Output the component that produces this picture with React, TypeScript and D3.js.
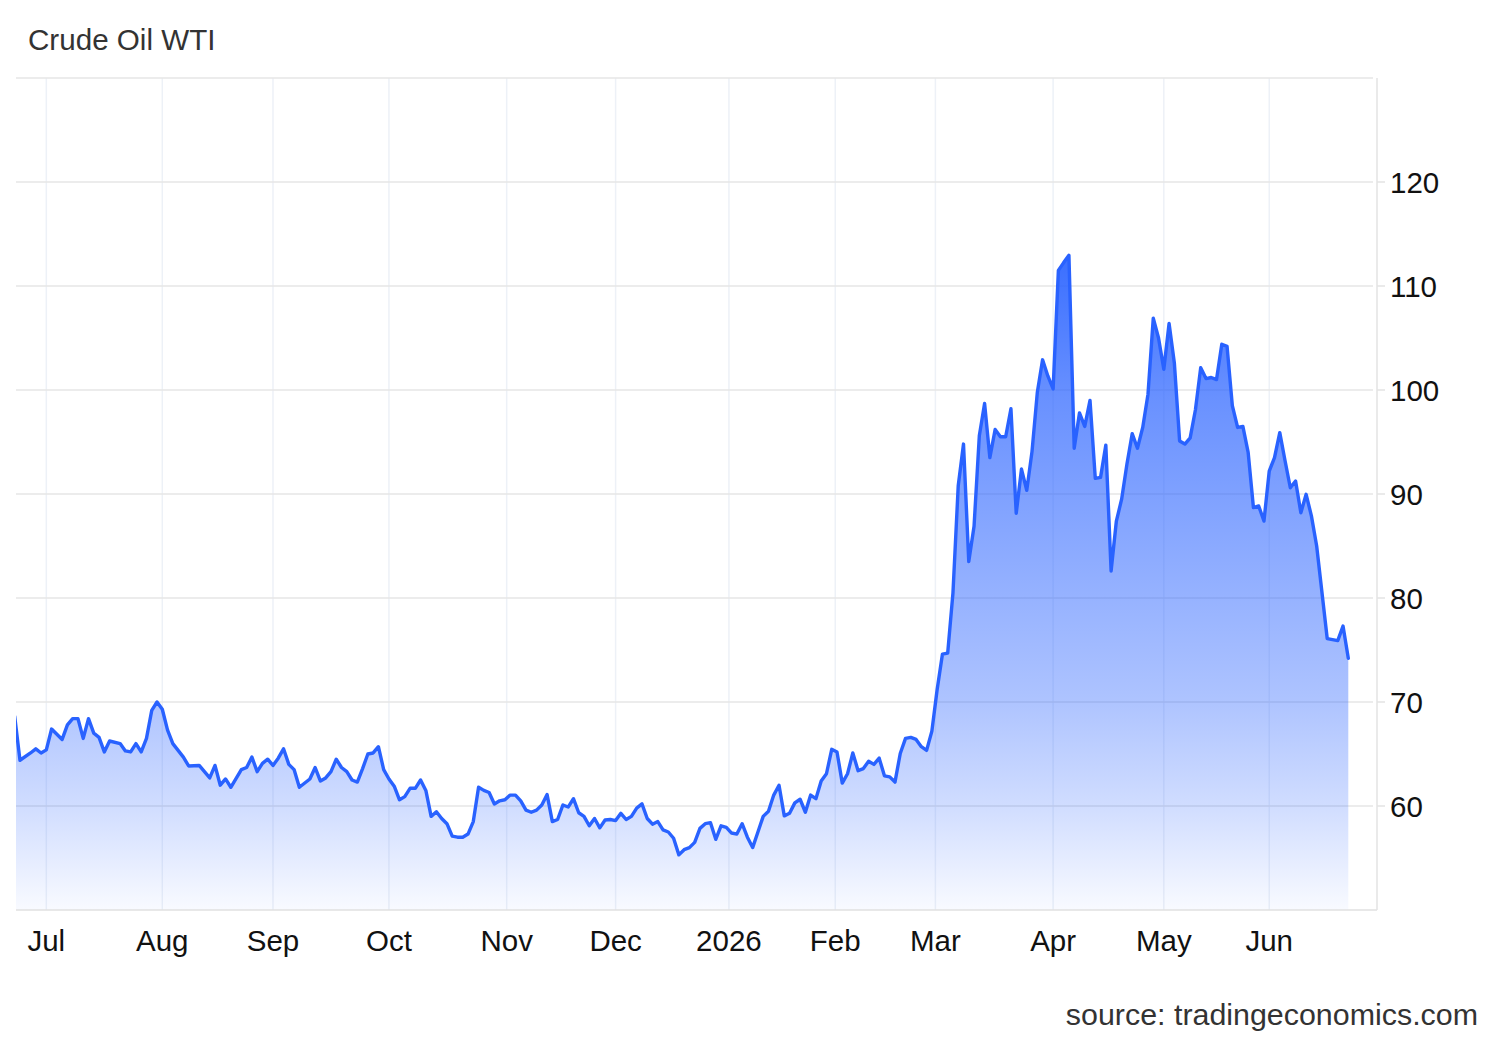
import React from "react";
import * as d3 from "d3";

const TITLE = "Crude Oil WTI";
const SOURCE = "source: tradingeconomics.com";
const FIRST_DAY = "2025-06-23";
const LAST_DAY = "2026-06-22";
const CLOSED_DAYS = ["2025-07-04", "2025-12-25", "2026-01-01", "2026-01-19", "2026-02-16", "2026-04-03", "2026-05-25"];
const MONTH_STARTS = ["2025-07-01", "2025-08-01", "2025-09-01", "2025-10-01", "2025-11-01", "2025-12-01", "2026-01-01", "2026-02-01", "2026-03-01", "2026-04-01", "2026-05-01", "2026-06-01"];
const Y_DOMAIN = [50, 130];
const Y_LABELS = [60, 70, 80, 90, 100, 110, 120];

const PRICES: [string, number][] = [
  ["2025-06-23", 68.6], ["2025-06-24", 64.4], ["2025-06-26", 65.1], ["2025-06-27", 65.5], ["2025-06-30", 65.1],
  ["2025-07-01", 65.4], ["2025-07-02", 67.4], ["2025-07-07", 66.4], ["2025-07-08", 67.8], ["2025-07-09", 68.4],
  ["2025-07-10", 68.4], ["2025-07-11", 66.5], ["2025-07-14", 68.4], ["2025-07-15", 67.0], ["2025-07-16", 66.6],
  ["2025-07-17", 65.2], ["2025-07-18", 66.25], ["2025-07-22", 66.0], ["2025-07-23", 65.3], ["2025-07-24", 65.2],
  ["2025-07-25", 66.0], ["2025-07-28", 65.2], ["2025-07-29", 66.5], ["2025-07-30", 69.2], ["2025-07-31", 70.0],
  ["2025-08-01", 69.3], ["2025-08-04", 67.3], ["2025-08-05", 66.0], ["2025-08-07", 64.7], ["2025-08-08", 63.85],
  ["2025-08-12", 63.9], ["2025-08-13", 63.3], ["2025-08-14", 62.7], ["2025-08-15", 63.9], ["2025-08-18", 62.0],
  ["2025-08-19", 62.6], ["2025-08-20", 61.8], ["2025-08-22", 63.5], ["2025-08-25", 63.7], ["2025-08-26", 64.7],
  ["2025-08-27", 63.3], ["2025-08-28", 64.1], ["2025-08-29", 64.5], ["2025-09-01", 63.9], ["2025-09-02", 64.6],
  ["2025-09-03", 65.5], ["2025-09-04", 64.0], ["2025-09-05", 63.5], ["2025-09-08", 61.8], ["2025-09-10", 62.6],
  ["2025-09-11", 63.7], ["2025-09-12", 62.4], ["2025-09-15", 62.7], ["2025-09-16", 63.3], ["2025-09-17", 64.5],
  ["2025-09-18", 63.7], ["2025-09-19", 63.3], ["2025-09-22", 62.5], ["2025-09-23", 62.3], ["2025-09-24", 63.6],
  ["2025-09-25", 65.0], ["2025-09-26", 65.1], ["2025-09-29", 65.7], ["2025-09-30", 63.5], ["2025-10-01", 62.6],
  ["2025-10-02", 61.9], ["2025-10-03", 60.6], ["2025-10-06", 60.9], ["2025-10-07", 61.7], ["2025-10-08", 61.7],
  ["2025-10-09", 62.5], ["2025-10-10", 61.5], ["2025-10-13", 59.0], ["2025-10-14", 59.45], ["2025-10-15", 58.8],
  ["2025-10-16", 58.3], ["2025-10-17", 57.1], ["2025-10-20", 57.0], ["2025-10-21", 57.0], ["2025-10-22", 57.3],
  ["2025-10-23", 58.5], ["2025-10-24", 61.8], ["2025-10-27", 61.5], ["2025-10-28", 61.3], ["2025-10-29", 60.2],
  ["2025-10-30", 60.5], ["2025-10-31", 60.6], ["2025-11-03", 61.05], ["2025-11-04", 61.05], ["2025-11-05", 60.5],
  ["2025-11-06", 59.6], ["2025-11-07", 59.4], ["2025-11-10", 59.6], ["2025-11-11", 60.1], ["2025-11-12", 61.1],
  ["2025-11-13", 58.5], ["2025-11-14", 58.7], ["2025-11-17", 60.1], ["2025-11-18", 59.9], ["2025-11-19", 60.7],
  ["2025-11-20", 59.35], ["2025-11-21", 59.0], ["2025-11-24", 58.1], ["2025-11-25", 58.8], ["2025-11-26", 57.9],
  ["2025-11-27", 58.65], ["2025-11-28", 58.7], ["2025-12-01", 58.6], ["2025-12-02", 59.3], ["2025-12-03", 58.7],
  ["2025-12-04", 59.0], ["2025-12-05", 59.8], ["2025-12-08", 60.2], ["2025-12-09", 58.8], ["2025-12-10", 58.25],
  ["2025-12-11", 58.5], ["2025-12-12", 57.7], ["2025-12-15", 57.5], ["2025-12-16", 56.9], ["2025-12-17", 55.3],
  ["2025-12-18", 55.8], ["2025-12-19", 56.0], ["2025-12-22", 56.5], ["2025-12-23", 57.85], ["2025-12-24", 58.3],
  ["2025-12-26", 58.4], ["2025-12-29", 56.8], ["2025-12-30", 58.1], ["2025-12-31", 57.95], ["2026-01-02", 57.4],
  ["2026-01-05", 57.3], ["2026-01-06", 58.3], ["2026-01-07", 57.0], ["2026-01-08", 56.0], ["2026-01-09", 57.5],
  ["2026-01-12", 59.0], ["2026-01-13", 59.5], ["2026-01-14", 61.05], ["2026-01-15", 62.0], ["2026-01-16", 59.05],
  ["2026-01-20", 59.3], ["2026-01-21", 60.3], ["2026-01-22", 60.65], ["2026-01-23", 59.4], ["2026-01-26", 61.05],
  ["2026-01-27", 60.7], ["2026-01-28", 62.4], ["2026-01-29", 63.1], ["2026-01-30", 65.45], ["2026-02-02", 65.2],
  ["2026-02-03", 62.2], ["2026-02-04", 63.1], ["2026-02-05", 65.1], ["2026-02-06", 63.4], ["2026-02-09", 63.6],
  ["2026-02-10", 64.3], ["2026-02-11", 64.0], ["2026-02-12", 64.6], ["2026-02-13", 62.9], ["2026-02-17", 62.8],
  ["2026-02-18", 62.3], ["2026-02-19", 65.05], ["2026-02-20", 66.5], ["2026-02-23", 66.6], ["2026-02-24", 66.4],
  ["2026-02-25", 65.7], ["2026-02-26", 65.35], ["2026-02-27", 67.2], ["2026-03-02", 71.2], ["2026-03-03", 74.6],
  ["2026-03-04", 74.7], ["2026-03-05", 80.5], ["2026-03-06", 90.8], ["2026-03-09", 94.8], ["2026-03-10", 83.5],
  ["2026-03-11", 86.9], ["2026-03-12", 95.6], ["2026-03-13", 98.7], ["2026-03-16", 93.5], ["2026-03-17", 96.2],
  ["2026-03-18", 95.5], ["2026-03-19", 95.5], ["2026-03-20", 98.2], ["2026-03-23", 88.15], ["2026-03-24", 92.4],
  ["2026-03-25", 90.35], ["2026-03-26", 94.1], ["2026-03-27", 99.75], ["2026-03-30", 102.9], ["2026-03-31", 101.35],
  ["2026-04-01", 100.1], ["2026-04-02", 111.5], ["2026-04-06", 112.25], ["2026-04-07", 112.95], ["2026-04-08", 94.4],
  ["2026-04-09", 97.8], ["2026-04-10", 96.5], ["2026-04-13", 99.0], ["2026-04-14", 91.5], ["2026-04-15", 91.6],
  ["2026-04-16", 94.7], ["2026-04-17", 82.6], ["2026-04-20", 87.4], ["2026-04-21", 89.5], ["2026-04-22", 92.85],
  ["2026-04-23", 95.8], ["2026-04-24", 94.4], ["2026-04-27", 96.4], ["2026-04-28", 99.6], ["2026-04-29", 106.9],
  ["2026-04-30", 105.0], ["2026-05-01", 102.0], ["2026-05-04", 106.4], ["2026-05-05", 102.6], ["2026-05-06", 95.1],
  ["2026-05-07", 94.8], ["2026-05-08", 95.4], ["2026-05-11", 98.1], ["2026-05-12", 102.15], ["2026-05-13", 101.1],
  ["2026-05-14", 101.2], ["2026-05-15", 101.0], ["2026-05-18", 104.4], ["2026-05-19", 104.2], ["2026-05-20", 98.5],
  ["2026-05-21", 96.4], ["2026-05-22", 96.5], ["2026-05-26", 94.0], ["2026-05-27", 88.7], ["2026-05-28", 88.85],
  ["2026-05-29", 87.4], ["2026-06-01", 92.2], ["2026-06-02", 93.5], ["2026-06-03", 95.9], ["2026-06-04", 93.2],
  ["2026-06-05", 90.6], ["2026-06-08", 91.25], ["2026-06-09", 88.2], ["2026-06-10", 89.97], ["2026-06-11", 87.9],
  ["2026-06-12", 85.0], ["2026-06-16", 76.1], ["2026-06-17", 76.0], ["2026-06-18", 75.9], ["2026-06-19", 77.3],
  ["2026-06-22", 74.2],
];

const W = 1500;
const H = 1040;
const PLOT = { left: 16, right: 1373, top: 78, bottom: 910 };
const SERIES_X0 = 14.7;
const SERIES_X1 = 1348.3;
const AXIS_X = 1377;
const FONT = "'Liberation Sans', Arial, Helvetica, sans-serif";
const LINE_COLOR = "#2962ff";

export default function App() {
  const parse = d3.utcParse("%Y-%m-%d");
  const fmt = d3.utcFormat("%Y-%m-%d");
  const closed = new Set(CLOSED_DAYS);
  const days = d3
    .utcDay.range(parse(FIRST_DAY)!, d3.utcDay.offset(parse(LAST_DAY)!, 1))
    .filter((d) => d.getUTCDay() !== 0 && d.getUTCDay() !== 6 && !closed.has(fmt(d)));
  const times = days.map((d) => +d);
  const indexOf = new Map(days.map((d, i) => [fmt(d), i] as [string, number]));

  const ordinal = (date: Date) => {
    const t = +date;
    const i = d3.bisectLeft(times, t);
    if (i < times.length && times[i] === t) return i;
    return i - 1 + (t - times[i - 1]) / (times[i] - times[i - 1]);
  };

  const x = d3.scaleLinear().domain([0, days.length - 1]).range([SERIES_X0, SERIES_X1]);
  const y = d3.scaleLinear().domain(Y_DOMAIN).range([PLOT.bottom, PLOT.top]);

  const data = PRICES.map(([d, v]) => ({ i: indexOf.get(d)!, v }));

  const line = d3
    .line<{ i: number; v: number }>()
    .x((d) => x(d.i))
    .y((d) => y(d.v));
  const area = d3
    .area<{ i: number; v: number }>()
    .x((d) => x(d.i))
    .y0(y(Y_DOMAIN[0]))
    .y1((d) => y(d.v));

  const monthTicks = MONTH_STARTS.map((s) => {
    const d = parse(s)!;
    return {
      x: x(ordinal(d)),
      label: d.getUTCMonth() === 0 ? d3.utcFormat("%Y")(d) : d3.utcFormat("%b")(d),
    };
  });

  const gridValues = y.ticks(8).filter((v) => v > Y_DOMAIN[0]);
  const maxV = d3.max(data, (d) => d.v)!;

  return (
    <div style={{ position: "absolute", left: 0, top: 0 }}>
      <svg width={W} height={H} style={{ display: "block", background: "#fff" }} fontFamily={FONT}>
        <defs>
          <clipPath id="plotClip">
            <rect x={PLOT.left} y={PLOT.top} width={PLOT.right - PLOT.left} height={PLOT.bottom - PLOT.top} />
          </clipPath>
          <linearGradient id="areaFill" gradientUnits="userSpaceOnUse" x1={0} x2={0} y1={y(maxV)} y2={y(Y_DOMAIN[0])}>
            <stop offset="0" stopColor={LINE_COLOR} stopOpacity={0.92} />
            <stop offset="0.22" stopColor={LINE_COLOR} stopOpacity={0.7} />
            <stop offset="0.68" stopColor={LINE_COLOR} stopOpacity={0.38} />
            <stop offset="0.84" stopColor={LINE_COLOR} stopOpacity={0.22} />
            <stop offset="1" stopColor={LINE_COLOR} stopOpacity={0.03} />
          </linearGradient>
        </defs>

        <text x={28} y={50} fontSize={29.6} fill="#333">{TITLE}</text>

        {monthTicks.map((t) => (
          <line key={"vg" + t.label} x1={t.x} x2={t.x} y1={PLOT.top} y2={PLOT.bottom} stroke="#edf1f7" strokeWidth={1.5} />
        ))}
        {gridValues.map((v) => (
          <line key={"hg" + v} x1={PLOT.left} x2={PLOT.right} y1={y(v)} y2={y(v)} stroke="#e6e6e6" strokeWidth={1.5} />
        ))}

        <g clipPath="url(#plotClip)">
          <path d={area(data)!} fill="url(#areaFill)" />
          <path d={line(data)!} fill="none" stroke={LINE_COLOR} strokeWidth={3.4} strokeLinejoin="round" strokeLinecap="round" />
        </g>

        <line x1={PLOT.left} x2={AXIS_X} y1={PLOT.bottom} y2={PLOT.bottom} stroke="#e0e0e0" strokeWidth={1.5} />
        <line x1={AXIS_X} x2={AXIS_X} y1={PLOT.top} y2={PLOT.bottom} stroke="#e3e3e3" strokeWidth={1.5} />
        {Y_LABELS.map((v) => (
          <g key={"yl" + v}>
            <line x1={AXIS_X} x2={AXIS_X + 8} y1={y(v)} y2={y(v)} stroke="#e3e3e3" strokeWidth={1.5} />
            <text x={1390} y={y(v) + 10.5} fontSize={29.5} fill="#111">{v}</text>
          </g>
        ))}

        {monthTicks.map((t) => (
          <text key={"xl" + t.label} x={t.x} y={951} fontSize={29.5} fill="#111" textAnchor="middle">{t.label}</text>
        ))}

        <text x={1478} y={1025} fontSize={30.4} fill="#333" textAnchor="end">{SOURCE}</text>
      </svg>
    </div>
  );
}
